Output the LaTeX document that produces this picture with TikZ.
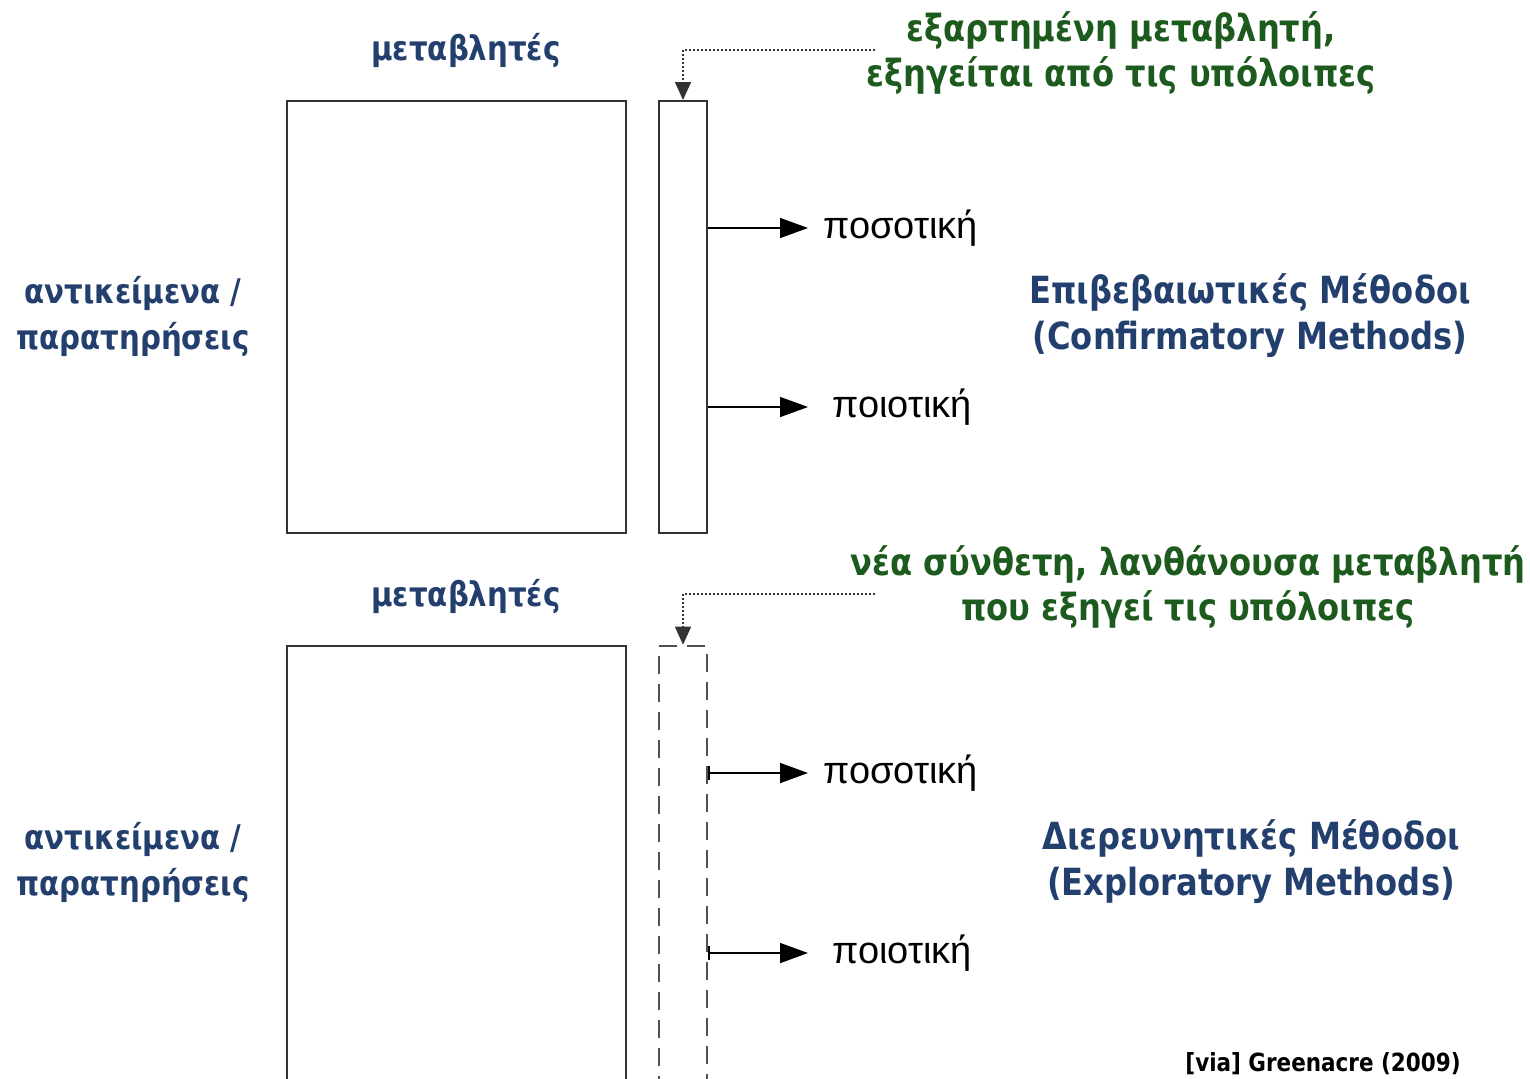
\documentclass[tikz,border=0pt]{standalone}
\usepackage{fontspec}
\setmainfont{DejaVu Sans}
\newfontfamily\tah[FakeStretch=0.86]{DejaVu Sans}
\newfontfamily\ari{Liberation Sans}
\usetikzlibrary{arrows.meta}
\definecolor{navy}{HTML}{233F6E}
\definecolor{dgreen}{HTML}{1D5A1D}
\definecolor{edgec}{HTML}{333333}
\definecolor{dashc}{HTML}{505050}
\begin{document}
\begin{tikzpicture}[x=0.5pt,y=-0.5pt,
  bluetxt/.style={font=\tah\bfseries\fontsize{17}{23}\selectfont, text=navy, align=center, inner sep=0pt},
  bigblue/.style={font=\tah\bfseries\fontsize{18.7}{23}\selectfont, text=navy, align=center, inner sep=0pt},
  greentxt/.style={font=\tah\bfseries\fontsize{18.7}{22.5}\selectfont, text=dgreen, align=center, inner sep=0pt},
  kind/.style={font=\ari\fontsize{19}{20}\selectfont, text=black, anchor=west, inner ysep=0pt},
  bigbox/.style={draw=edgec, line width=1pt, minimum width=169.5pt, inner sep=0pt},
  slimbox/.style={draw=edgec, line width=1pt, minimum width=24pt, inner sep=0pt},
  dashbox/.style={draw=dashc, line width=1.3pt, dash pattern=on 9pt off 5pt, minimum width=24pt, inner sep=0pt},
  outarr/.style={draw=black, line width=0.8pt, -{Triangle[length=14pt,width=10pt]}},
  bararr/.style={draw=black, line width=0.8pt, {Bar[width=7pt]}-{Triangle[length=14pt,width=10pt]}},
  hintarr/.style={draw=edgec, line width=0.7pt, dash pattern=on 1pt off 1pt, -{Triangle[length=9pt,width=8pt]}},
]
\useasboundingbox (0,0) rectangle (1530,1078);
\clip (0,0) rectangle (1530,1078);

% ---------- top panel ----------
\node[bigbox, minimum height=216pt] (big1) at (456.5,317) {};
\node[slimbox, minimum height=216pt] (slim1) at (683,317) {};
\node[bluetxt] (var1) at (466,50) {μεταβλητές};
\node[bluetxt] (obj1) at (133,316) {αντικείμενα /\\παρατηρήσεις};
\node[bigblue] (conf) at (1250,316) {Επιβεβαιωτικές Μέθοδοι\\(Confirmatory Methods)};
\node[greentxt] (dep) at (1121,53) {εξαρτημένη μεταβλητή,\\εξηγείται από τις υπόλοιπες};
\node[kind, inner xsep=7.5pt] (q1) at (808,228) {ποσοτική};
\node[kind, inner xsep=12pt] (c1) at (808,407) {ποιοτική};

\draw[outarr] (slim1.east |- q1.west) -- (q1.west);
\draw[outarr] (slim1.east |- c1.west) -- (c1.west);
\coordinate (dep1s) at (875,50);
\draw[hintarr] (dep1s) -| (slim1.north);

% ---------- bottom panel ----------
\node[bigbox, minimum height=227pt] (big2) at (456,873) {};
\node[dashbox, minimum height=227pt] (slim2) at (683,873) {};
\node[bluetxt] (var2) at (466,596) {μεταβλητές};
\node[bluetxt] (obj2) at (133,862) {αντικείμενα /\\παρατηρήσεις};
\node[bigblue] (expl) at (1251,862) {Διερευνητικές Μέθοδοι\\(Exploratory Methods)};
\node[greentxt] (lat) at (1188,587) {νέα σύνθετη, λανθάνουσα μεταβλητή\\που εξηγεί τις υπόλοιπες};
\node[kind, inner xsep=7.5pt] (q2) at (808,773) {ποσοτική};
\node[kind, inner xsep=12pt] (c2) at (808,953) {ποιοτική};

\draw[bararr] (slim2.east |- q2.west) -- (q2.west);
\draw[bararr] (slim2.east |- c2.west) -- (c2.west);
\coordinate (dep2s) at (875,594);
\draw[hintarr] (dep2s) -| (slim2.north);

\node[font=\tah\bfseries\fontsize{12.5}{14}\selectfont, anchor=east, inner sep=0pt] (cite) at (1461,1064) {[via] Greenacre (2009)};
\end{tikzpicture}
\end{document}
